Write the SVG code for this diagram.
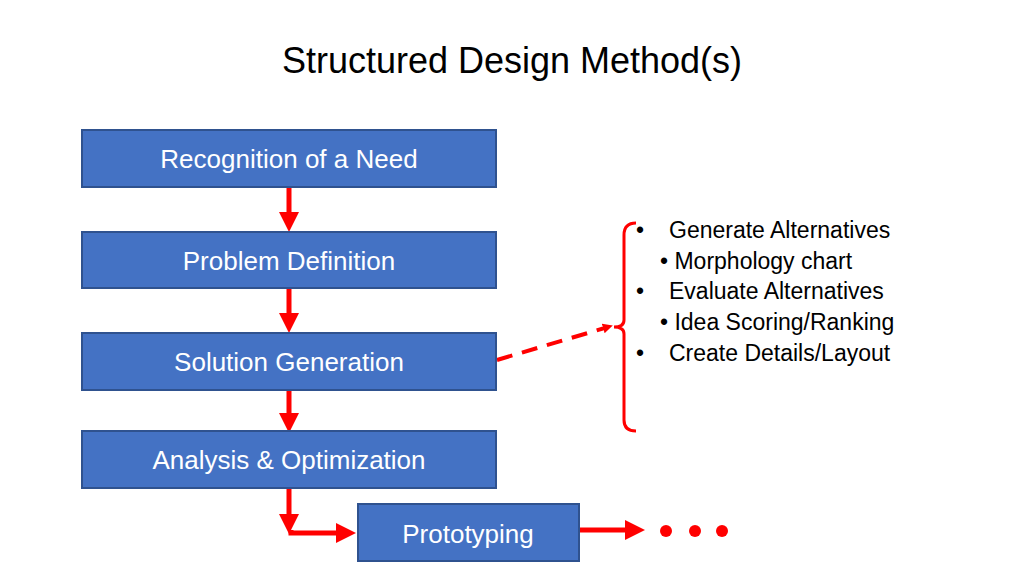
<svg xmlns="http://www.w3.org/2000/svg" width="1024" height="576" viewBox="0 0 1024 576">
<style>
.box{fill:#4472c4;stroke:#2f528f;stroke-width:2}
.lbl{font-family:"Liberation Sans",Arial,sans-serif;font-size:26px;fill:#fff;text-anchor:middle}
.t{font-family:"Liberation Sans",Arial,sans-serif;font-size:23px;fill:#000}
.c{stroke:#ff0000;stroke-width:5;fill:none}
</style>
<defs>
<marker id="ah" markerWidth="4" markerHeight="4" refX="2" refY="2" orient="auto" markerUnits="strokeWidth"><path d="M0,0 L4,2 L0,4 z" fill="#ff0000"/></marker>
<marker id="ah2" markerWidth="10" markerHeight="10" refX="5" refY="5" orient="auto" markerUnits="userSpaceOnUse"><path d="M0,0 L10,5 L0,10 z" fill="#ff0000"/></marker>
</defs>
<rect width="1024" height="576" fill="#fff"/>
<text x="512" y="73" text-anchor="middle" style="font-family:'Liberation Sans',Arial,sans-serif;font-size:36px;fill:#000">Structured Design Method(s)</text>
<g id="connectors">
<line class="c" x1="289" y1="187" x2="289" y2="222" marker-end="url(#ah)"/>
<line class="c" x1="289" y1="288" x2="289" y2="323" marker-end="url(#ah)"/>
<line class="c" x1="289" y1="390" x2="289" y2="423" marker-end="url(#ah)"/>
<line class="c" x1="289" y1="488" x2="289" y2="524" marker-end="url(#ah)"/>
<polyline class="c" points="291,530 291,533 346,533" marker-end="url(#ah)"/>
<line class="c" x1="579" y1="530" x2="635" y2="530" marker-end="url(#ah)"/>
<line x1="497" y1="360" x2="608" y2="327" stroke="#ff0000" stroke-width="4" stroke-dasharray="16,10" marker-end="url(#ah2)"/>
<path d="M636,223 Q624,223 624,235 L624,320 Q624,327 614,327 Q624,327 624,334 L624,420 Q624,431 636,431" stroke="#ff0000" stroke-width="3" fill="none"/>
<circle cx="666" cy="531" r="6" fill="#ff0000"/>
<circle cx="695" cy="531" r="6" fill="#ff0000"/>
<circle cx="722" cy="531" r="6" fill="#ff0000"/>
</g>
<g id="n1"><rect class="box" x="82" y="130" width="414" height="57"/><text class="lbl" x="289" y="168">Recognition of a Need</text></g>
<g id="n2"><rect class="box" x="82" y="232" width="414" height="56"/><text class="lbl" x="289" y="270">Problem Definition</text></g>
<g id="n3"><rect class="box" x="82" y="333" width="414" height="57"/><text class="lbl" x="289" y="371">Solution Generation</text></g>
<g id="n4"><rect class="box" x="82" y="431" width="414" height="57"/><text class="lbl" x="289" y="469">Analysis &amp; Optimization</text></g>
<g id="n5"><rect class="box" x="358" y="504" width="221" height="57"/><text class="lbl" x="468" y="543">Prototyping</text></g>
<g id="list">
<text class="t" x="636" y="238">•</text><text class="t" x="669" y="238">Generate Alternatives</text>
<text class="t" x="660" y="269">• Morphology chart</text>
<text class="t" x="636" y="299">•</text><text class="t" x="669" y="299">Evaluate Alternatives</text>
<text class="t" x="660" y="330">• Idea Scoring/Ranking</text>
<text class="t" x="636" y="361">•</text><text class="t" x="669" y="361">Create Details/Layout</text>
</g>
</svg>
